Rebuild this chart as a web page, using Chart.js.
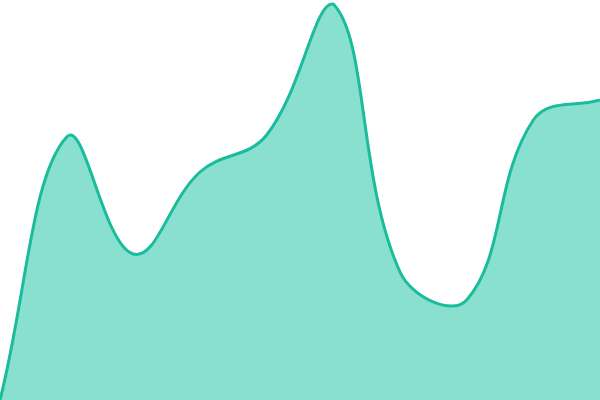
<!DOCTYPE html>
<html>
<head>
<meta charset="utf-8">
<script src="https://cdn.jsdelivr.net/npm/chart.js@4/dist/chart.umd.min.js"></script>
<style>
  html, body { margin: 0; padding: 0; background: #fff; }
  #wrap { width: 600px; height: 400px; }
</style>
</head>
<body>
<div id="wrap"><canvas id="areaChart" width="600" height="400"></canvas></div>
<script>
  const labels = ['1','2','3','4','5','6','7','8','9','10'];
  const values = [0, 263, 146, 228, 265, 396, 128, 100, 280, 300];
  const yMin = 0;
  const yMax = 400;

  new Chart(document.getElementById('areaChart'), {
    type: 'line',
    data: {
      labels: labels,
      datasets: [{
        data: values,
        fill: true,
        borderColor: '#1abc9c',
        backgroundColor: '#8ae0cf',
        borderWidth: 3,
        tension: 0.4,
        pointRadius: 0
      }]
    },
    options: {
      responsive: false,
      animation: false,
      layout: { padding: 0 },
      plugins: { legend: { display: false }, tooltip: { enabled: false } },
      scales: {
        x: { display: false, offset: false },
        y: { display: false, min: yMin, max: yMax }
      }
    }
  });
</script>
</body>
</html>
